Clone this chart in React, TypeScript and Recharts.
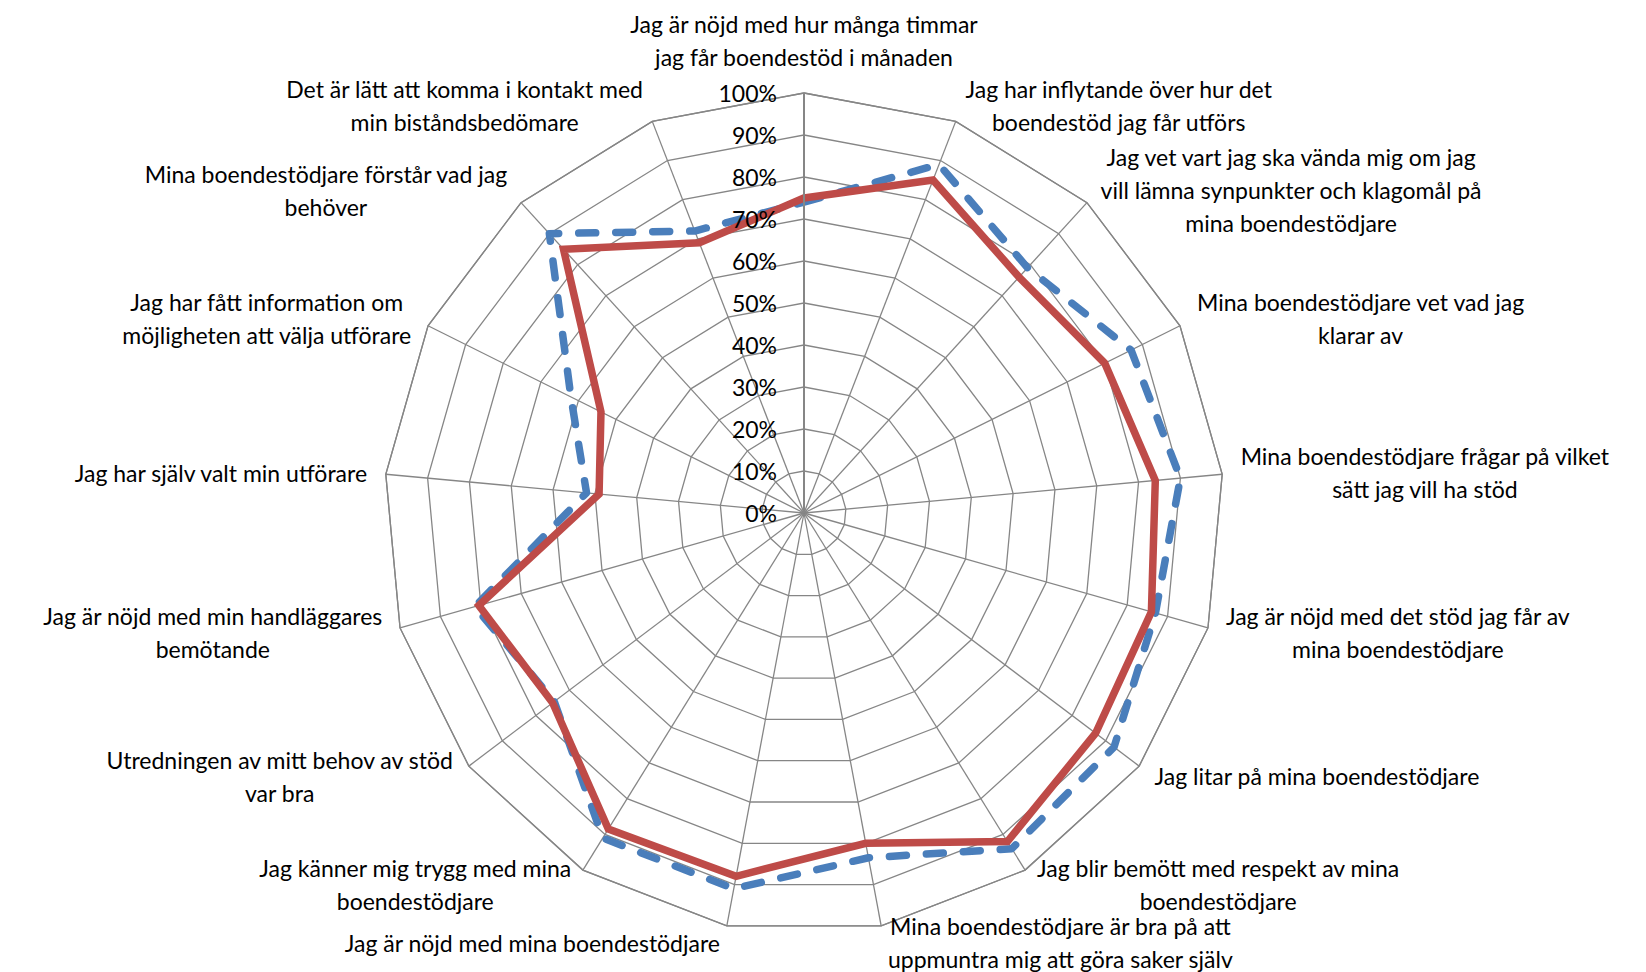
import React from "react";
import { RadarChart, Radar, PolarGrid, PolarAngleAxis, PolarRadiusAxis } from "recharts";

// categories clockwise from the top, line breaks as in the original labels
const CATEGORIES = [
  "Jag är nöjd med hur många timmar\njag får boendestöd i månaden",
  "Jag har inflytande över hur det\nboendestöd jag får utförs",
  "Jag vet vart jag ska vända mig om jag\nvill lämna synpunkter och klagomål på\nmina boendestödjare",
  "Mina boendestödjare vet vad jag\nklarar av",
  "Mina boendestödjare frågar på vilket\nsätt jag vill ha stöd",
  "Jag är nöjd med det stöd jag får av\nmina boendestödjare",
  "Jag litar på mina boendestödjare",
  "Jag blir bemött med respekt av mina\nboendestödjare",
  "Mina boendestödjare är bra på att\nuppmuntra mig att göra saker själv",
  "Jag är nöjd med mina boendestödjare",
  "Jag känner mig trygg med mina\nboendestödjare",
  "Utredningen av mitt behov av stöd\nvar bra",
  "Jag är nöjd med min handläggares\nbemötande",
  "Jag har själv valt min utförare",
  "Jag har fått information om\nmöjligheten att välja utförare",
  "Mina boendestödjare förstår vad jag\nbehöver",
  "Det är lätt att komma i kontakt med\nmin biståndsbedömare",
];

const SERIE_1 = [75, 85, 76, 80, 84, 86, 87, 92, 80, 88, 88.5, 75, 80.5, 49, 54, 85, 69];
const SERIE_2 = [74, 89, 79, 87, 90, 87, 92.5, 94, 83.5, 91, 91, 74.5, 81.5, 52, 62, 90, 72];

const data = CATEGORIES.map((c, i) => ({ cat: c, s1: SERIE_1[i], s2: SERIE_2[i] }));

const W = 1646;
const H = 972;
const CX = 804;
const CY = 513;
const R = 420;
const FONT = "Lato";
const FONT_SIZE = 23;
const LINE_H = 33;

let ctx: CanvasRenderingContext2D | null = null;
function textWidth(t: string) {
  if (!ctx) ctx = document.createElement("canvas").getContext("2d");
  if (!ctx) return t.length * FONT_SIZE * 0.5;
  ctx.font = `${FONT_SIZE}px ${FONT}`;
  return ctx.measureText(t).width;
}

function AngleTick(props: any) {
  const { x, y, payload } = props;
  const dx = x - CX;
  const dy = y - CY;
  const len = Math.hypot(dx, dy) || 1;
  const s = dx / len;
  const c = -dy / len;
  const vx = CX + R * s;
  const vy = CY - R * c;
  const lines = String(payload.value).split("\n");
  const w = Math.max(...lines.map(textWidth));
  const h = lines.length * LINE_H;

  let midX: number;
  let midY: number;
  if (Math.abs(s) < 0.05) {
    midX = vx;
    midY = c > 0 ? vy - 20 - h / 2 : vy + 20 + h / 2;
  } else {
    const gap = 4 + 14 * Math.abs(s);
    midX = s > 0 ? vx + gap + w / 2 : vx - gap - w / 2;
    midY = vy - c * 17;
  }

  return (
    <g>
      {lines.map((l, i) => (
        <text
          key={i}
          x={midX}
          y={midY + (i - (lines.length - 1) / 2) * LINE_H}
          textAnchor="middle"
          dominantBaseline="central"
          fontFamily={FONT}
          fontSize={FONT_SIZE}
          fill="#000"
        >
          {l}
        </text>
      ))}
    </g>
  );
}

function RadiusTick(props: any) {
  const { x, y, payload } = props;
  return (
    <text
      x={x - 27}
      y={y}
      textAnchor="end"
      dominantBaseline="central"
      fontFamily={FONT}
      fontSize={FONT_SIZE}
      fill="#000"
    >
      {`${payload.value}%`}
    </text>
  );
}

export default function App() {
  return (
    <div style={{ width: W, height: H, fontFamily: FONT }}>
      <style>{"body{margin:0;overflow:hidden}"}</style>
      <RadarChart
        width={W}
        height={H}
        data={data}
        cx={CX}
        cy={CY}
        outerRadius={R}
        margin={{ top: 0, right: 0, bottom: 0, left: 0 }}
      >
        <PolarGrid gridType="polygon" stroke="#868686" strokeWidth={1.3} />
        <PolarAngleAxis
          dataKey="cat"
          tick={<AngleTick />}
          tickLine={false}
          axisLine={{ stroke: "#868686", strokeWidth: 1.3 }}
        />
        <PolarRadiusAxis
          angle={90}
          domain={[0, 100]}
          tickCount={11}
          tick={<RadiusTick />}
          axisLine={{ stroke: "#868686", strokeWidth: 2 }}
        />
        <Radar
          name="Serie 2"
          dataKey="s2"
          stroke="#4A7EBB"
          strokeWidth={7.5}
          strokeDasharray="17 20"
          strokeLinecap="round"
          strokeLinejoin="round"
          fill="none"
          fillOpacity={0}
          dot={false}
          isAnimationActive={false}
        />
        <Radar
          name="Serie 1"
          dataKey="s1"
          stroke="#BE4B48"
          strokeWidth={7.5}
          strokeLinejoin="miter"
          fill="none"
          fillOpacity={0}
          dot={false}
          isAnimationActive={false}
        />
      </RadarChart>
    </div>
  );
}
